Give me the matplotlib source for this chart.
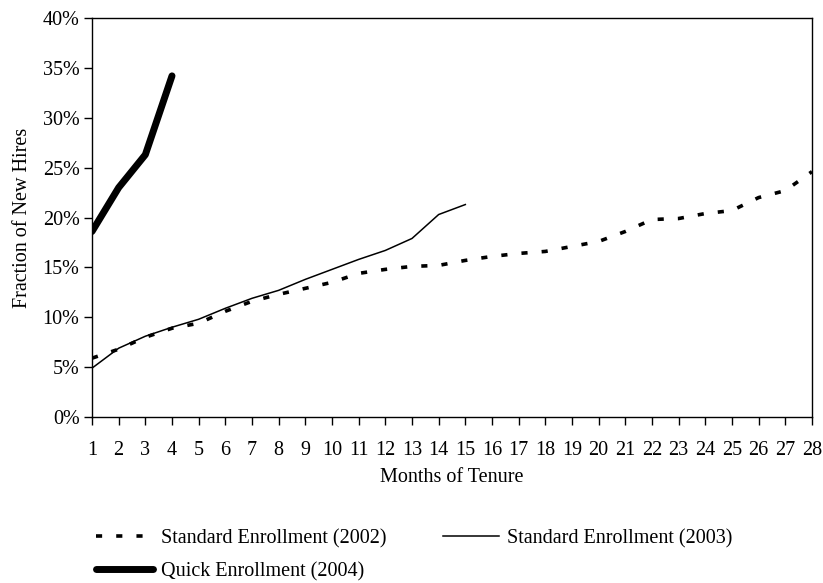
import matplotlib
matplotlib.use('Agg')

import matplotlib.pyplot as plt
import matplotlib.ticker as ticker

plt.rcParams['font.family'] = ['Liberation Serif', 'DejaVu Serif']

months_2002 = list(range(1, 29))
std_2002 = [5.9, 6.8, 8.0, 8.9, 9.4, 10.6, 11.6, 12.3, 12.9, 13.5,
            14.4, 14.8, 15.1, 15.2, 15.7, 16.1, 16.4, 16.6, 17.1, 17.6,
            18.6, 19.8, 19.9, 20.4, 20.7, 22.0, 22.7, 24.6]

months_2003 = list(range(1, 16))
std_2003 = [4.9, 6.9, 8.1, 9.0, 9.8, 10.9, 11.9, 12.7, 13.8, 14.8,
            15.8, 16.7, 17.9, 20.3, 21.3]

months_2004 = [1, 2, 3, 4]
quick_2004 = [18.6, 23.0, 26.3, 34.2]

y_ticks = [0, 5, 10, 15, 20, 25, 30, 35, 40]

FS = 14.5

fig = plt.figure(figsize=(8.23, 5.83), dpi=100)
ax = fig.add_axes([0.1118, 0.2847, 0.8748, 0.6844])

l02, = ax.plot(months_2002, [v / 100 for v in std_2002], color="black", linewidth=2.6,
               linestyle=(0, (1.7, 3.9)), dash_capstyle="butt",
               label="Standard Enrollment (2002)")
l03, = ax.plot(months_2003, [v / 100 for v in std_2003], color="black", linewidth=1.1,
               label="Standard Enrollment (2003)")
l04, = ax.plot(months_2004, [v / 100 for v in quick_2004], color="black", linewidth=5.0,
               solid_capstyle="round", label="Quick Enrollment (2004)")

ax.set_xlim(1, 28)
ax.set_ylim(0, 0.40)
ax.set_xticks(months_2002)
ax.set_yticks([v / 100 for v in y_ticks])
ax.yaxis.set_major_formatter(ticker.FuncFormatter(lambda x, _: f"{x * 100:.0f}%"))
ax.tick_params(axis="both", direction="out", length=6, width=1.0, labelsize=FS, colors="black")
ax.tick_params(axis="x", pad=11)
ax.tick_params(axis="y", pad=3)
for s in ax.spines.values():
    s.set_linewidth(1.0)
    s.set_color("black")

ax.set_xlabel("Months of Tenure", fontsize=FS, labelpad=6)
ax.set_ylabel("Fraction of New Hires", fontsize=FS, labelpad=8)

fig.legend([l02, l04, l03],
           ["Standard Enrollment (2002)", "Quick Enrollment (2004)", "Standard Enrollment (2003)"],
           ncol=2, loc="upper left", bbox_to_anchor=(0.095, 0.124), frameon=False,
           fontsize=FS, handlelength=2.8, handletextpad=0.4, columnspacing=2.8,
           labelspacing=0.7)

plt.savefig("out.png", dpi=100)
plt.close("all")
